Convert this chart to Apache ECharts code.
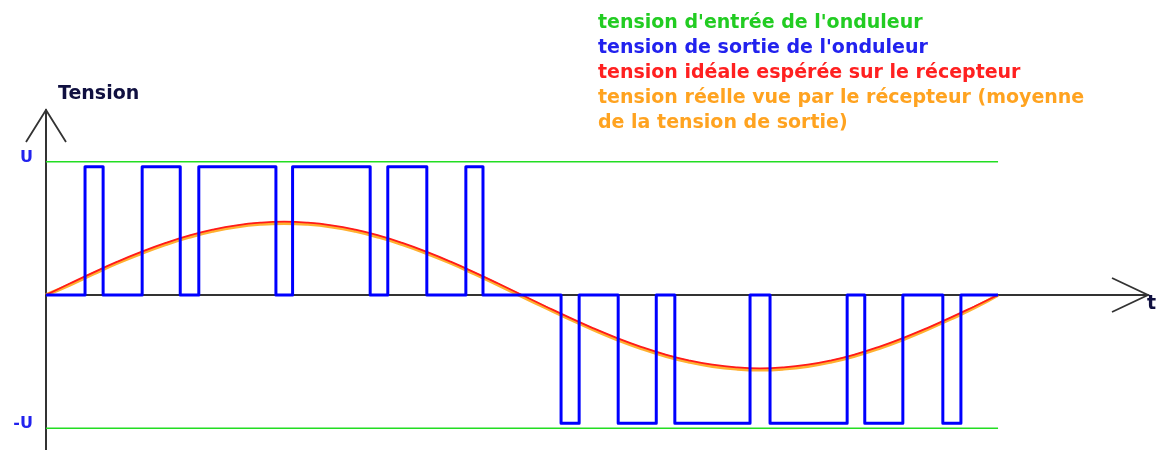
<!DOCTYPE html>
<html>
<head>
<meta charset="utf-8">
<script src="https://cdn.jsdelivr.net/npm/echarts@6/dist/echarts.min.js"></script>
<style>
  html, body { margin: 0; padding: 0; background: #fff; }
  #chart { width: 1162px; height: 450px; }
</style>
</head>
<body>
<div id="chart"></div>
<script>
// temps en ms (une période = 20 ms), tension en unités de U
const tMax = 23.15;
const vMin = -1.163;
const vMax = 1.388;

const inputLevel = 1; // tension d'entrée ±U
const pulseLevel = 0.962;

// fronts des impulsions (alternance positive / négative)
const posStarts = [0.82, 2.02, 3.21, 5.18, 7.18, 8.82];
const posEnds = [1.2, 2.82, 4.83, 6.81, 8.0, 9.18];
const negStarts = [10.82, 12.02, 13.21, 15.21, 17.2, 18.84];
const negEnds = [11.2, 12.82, 14.79, 16.83, 18.0, 19.22];
const periodEnd = 20;

// échantillons relevés tous les 0.5 ms
const sampleTimes = [0, 0.5, 1, 1.5, 2, 2.5, 3, 3.5, 4, 4.5, 5, 5.5, 6, 6.5, 7, 7.5, 8, 8.5, 9, 9.5, 10,
    10.5, 11, 11.5, 12, 12.5, 13, 13.5, 14, 14.5, 15, 15.5, 16, 16.5, 17, 17.5, 18, 18.5, 19, 19.5, 20];
const idealValues = [0, 0.086, 0.17, 0.25, 0.323, 0.389, 0.445, 0.49, 0.523, 0.543, 0.55,
    0.543, 0.523, 0.49, 0.445, 0.389, 0.323, 0.25, 0.17, 0.086, 0,
    -0.086, -0.17, -0.25, -0.323, -0.389, -0.445, -0.49, -0.523, -0.543, -0.55,
    -0.543, -0.523, -0.49, -0.445, -0.389, -0.323, -0.25, -0.17, -0.086, 0];
const meanValues = [0, 0.076, 0.16, 0.24, 0.312, 0.378, 0.434, 0.479, 0.512, 0.532, 0.539,
    0.532, 0.512, 0.479, 0.434, 0.378, 0.312, 0.24, 0.16, 0.076, -0.01,
    -0.096, -0.18, -0.26, -0.334, -0.4, -0.456, -0.501, -0.534, -0.554, -0.561,
    -0.554, -0.534, -0.501, -0.456, -0.4, -0.334, -0.26, -0.18, -0.096, 0];

const legendLines = [
    { text: "tension d'entrée de l'onduleur", color: '#22cc22' },
    { text: "tension de sortie de l'onduleur", color: '#2222ee' },
    { text: 'tension idéale espérée sur le récepteur', color: '#ff2020' },
    { text: 'tension réelle vue par le récepteur (moyenne', color: '#ffa320' },
    { text: 'de la tension de sortie)', color: '#ffa320' }
];

const FONT = '"DejaVu Sans", Verdana, sans-serif';

function pulsePoints() {
    const pts = [[0, 0]];
    posStarts.forEach((s, i) => {
        pts.push([s, 0], [s, pulseLevel], [posEnds[i], pulseLevel], [posEnds[i], 0]);
    });
    negStarts.forEach((s, i) => {
        pts.push([s, 0], [s, -pulseLevel], [negEnds[i], -pulseLevel], [negEnds[i], 0]);
    });
    pts.push([periodEnd, 0]);
    return pts;
}

/**
 * onduleur MLI : tension de sortie et tension vue par le récepteur
 */
function drawInverterChart(chartDom) {
    let myChart = echarts.getInstanceByDom(chartDom);
    if (myChart) myChart.dispose();
    myChart = echarts.init(chartDom);

    myChart.setOption({
        animation: false,
        grid: { left: 46, right: 14, top: 110, bottom: 0 },
        xAxis: {
            type: 'value',
            min: 0,
            max: tMax,
            axisLine: { onZero: true, lineStyle: { color: '#333', width: 2 } },
            axisTick: { show: false },
            axisLabel: { show: false },
            splitLine: { show: false }
        },
        yAxis: {
            type: 'value',
            min: vMin,
            max: vMax,
            axisLine: { show: true, lineStyle: { color: '#333', width: 2 } },
            axisTick: { show: false },
            splitLine: { show: false },
            axisLabel: {
                customValues: [-inputLevel, inputLevel],
                formatter: (v) => (v > 0 ? 'U' : '-U'),
                margin: 13,
                color: '#2222ee',
                fontFamily: FONT,
                fontWeight: 'bold',
                fontSize: 16,
                verticalAlign: 'bottom',
                lineHeight: 8
            }
        },
        series: [{
            name: "tension d'entrée",
            type: 'line',
            symbol: 'none',
            lineStyle: { color: '#22dd22', width: 1.5 },
            data: [[0, inputLevel], [periodEnd, inputLevel]],
            z: 1
        }, {
            name: "tension d'entrée -",
            type: 'line',
            symbol: 'none',
            lineStyle: { color: '#22dd22', width: 1.5 },
            data: [[0, -inputLevel], [periodEnd, -inputLevel]],
            z: 1
        }, {
            name: 'tension réelle',
            type: 'line',
            symbol: 'none',
            smooth: true,
            lineStyle: { color: '#ffb030', width: 3.5 },
            data: sampleTimes.map((t, i) => [t, meanValues[i]]),
            z: 2
        }, {
            name: 'tension idéale',
            type: 'line',
            symbol: 'none',
            smooth: true,
            lineStyle: { color: '#ff1a1a', width: 1.8 },
            data: sampleTimes.map((t, i) => [t, idealValues[i]]),
            z: 3
        }, {
            name: 'tension de sortie',
            type: 'line',
            symbol: 'none',
            lineStyle: { color: '#0000ff', width: 3, join: 'round' },
            data: pulsePoints(),
            z: 4
        }]
    });

    // flèches ouvertes au bout des axes + textes
    const yTip = myChart.convertToPixel({ gridIndex: 0 }, [0, vMax]);
    const xTip = myChart.convertToPixel({ gridIndex: 0 }, [tMax, 0]);
    const arrowStyle = { stroke: '#333', lineWidth: 1.8, fill: null };

    const graphics = [{
        type: 'polyline',
        shape: { points: [[yTip[0] - 20, yTip[1] + 32], [yTip[0], yTip[1]], [yTip[0] + 20, yTip[1] + 32]] },
        style: arrowStyle
    }, {
        type: 'polyline',
        shape: { points: [[xTip[0] - 36, xTip[1] - 17], [xTip[0], xTip[1]], [xTip[0] - 36, xTip[1] + 17]] },
        style: arrowStyle
    }, {
        type: 'text',
        x: 58,
        y: 94,
        style: { text: 'Tension', fill: '#101040', font: 'bold 19px ' + FONT, verticalAlign: 'middle' }
    }, {
        type: 'text',
        x: 1147,
        y: 304,
        style: { text: 't', fill: '#101040', font: 'bold 19px ' + FONT, verticalAlign: 'middle' }
    }];

    legendLines.forEach((line, i) => {
        graphics.push({
            type: 'text',
            x: 598,
            y: 23.5 + i * 25,
            style: { text: line.text, fill: line.color, font: 'bold 19px ' + FONT, verticalAlign: 'middle' }
        });
    });

    myChart.setOption({ graphic: graphics });

    window.onresize = function () {
        myChart.resize();
    };
}

drawInverterChart(document.getElementById('chart'));
</script>
</body>
</html>
